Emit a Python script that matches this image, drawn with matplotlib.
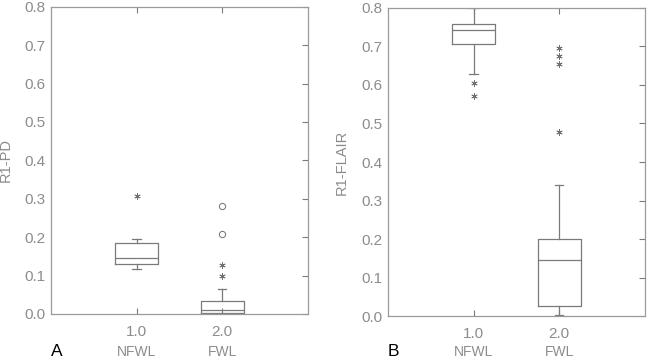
import matplotlib
matplotlib.use('Agg')
import matplotlib.pyplot as plt

plt.rcParams['font.family'] = ['Liberation Sans', 'DejaVu Sans']

groups = ['NFWL', 'FWL']
positions = [1.0, 2.0]
tick_labels = ['1.0', '2.0']
y_ticks = [0.0, 0.1, 0.2, 0.3, 0.4, 0.5, 0.6, 0.7, 0.8]

# panel A: R1-PD
pd_low = [0.116, 0.0]
pd_q1 = [0.131, 0.003]
pd_med = [0.145, 0.009]
pd_q3 = [0.184, 0.034]
pd_high = [0.194, 0.065]
pd_stars = [[0.307], [0.128, 0.098]]
pd_circles = [[], [0.282, 0.208]]

# panel B: R1-FLAIR
fl_low = [0.629, 0.003]
fl_q1 = [0.706, 0.026]
fl_med = [0.743, 0.145]
fl_q3 = [0.758, 0.201]
fl_high = [0.8, 0.339]
fl_stars = [[0.604, 0.572], [0.697, 0.674, 0.655, 0.477]]
fl_circles = [[], []]

line_col = '#7a7a7a'
text_col = '#8c8c8c'

fig = plt.figure(figsize=(6.5, 3.6), dpi=100)


def draw_panel(rect, low, q1, med, q3, high, stars, circles, ylabel, letter,
               ylab_x, base_y):
    ax = fig.add_axes(rect)
    stats = []
    for i in range(len(groups)):
        stats.append({'whislo': low[i], 'q1': q1[i], 'med': med[i],
                      'q3': q3[i], 'whishi': high[i], 'fliers': []})
    lp = dict(color=line_col, linewidth=0.9)
    ax.bxp(stats, positions=positions, widths=0.5, capwidths=0.1,
           showfliers=False, boxprops=lp, whiskerprops=lp, capprops=lp,
           medianprops=lp)
    for i, p in enumerate(positions):
        if stars[i]:
            ax.plot([p] * len(stars[i]), stars[i], linestyle='none',
                    marker=(6, 2, 0), markersize=4.5, color='#707070',
                    markeredgewidth=0.6)
        if circles[i]:
            ax.plot([p] * len(circles[i]), circles[i], linestyle='none',
                    marker='o', markersize=4.5, markerfacecolor='none',
                    markeredgecolor='#707070', markeredgewidth=0.7)
    ax.set_xlim(0, 3)
    ax.set_ylim(0, 0.8)
    ax.set_xticks(positions)
    ax.set_xticklabels(tick_labels)
    ax.set_yticks(y_ticks)
    ax.set_yticklabels(['%.1f' % v for v in y_ticks])
    ax.tick_params(direction='in', length=4, width=0.8, color=line_col,
                   labelcolor=text_col, labelsize=11, left=False,
                   right=True, top=True, bottom=True, pad=4)
    ax.tick_params(axis='x', pad=8)
    for s in ax.spines.values():
        s.set_color('#9a9a9a')
        s.set_linewidth(0.9)
    ax.set_ylabel(ylabel, color=text_col, fontsize=10.5)
    ax.yaxis.set_label_coords(ylab_x, 0.5)
    for p, g in zip(positions, groups):
        ax.text(p, base_y, g, transform=ax.get_xaxis_transform(),
                ha='center', va='baseline', color=text_col, fontsize=10)
    ax.text(0.0, base_y, letter, transform=ax.transAxes, ha='left',
            va='baseline', color='black', fontsize=12.5)
    return ax


draw_panel([0.0785, 0.128, 0.395, 0.853], pd_low, pd_q1, pd_med, pd_q3,
           pd_high, pd_stars, pd_circles, 'R1-PD', 'A', -0.148, -0.137)
draw_panel([0.597, 0.122, 0.395, 0.856], fl_low, fl_q1, fl_med, fl_q3,
           fl_high, fl_stars, fl_circles, 'R1-FLAIR', 'B', -0.152, -0.130)

plt.savefig('out.png', dpi=100)
